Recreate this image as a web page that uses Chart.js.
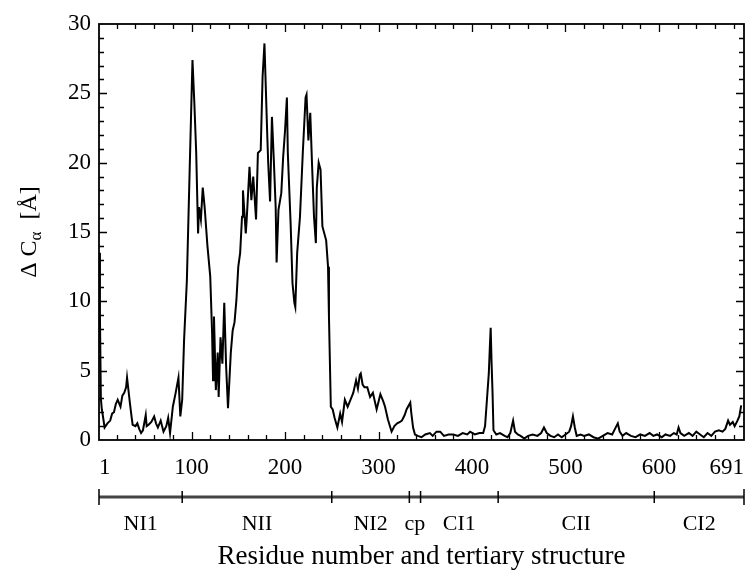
<!DOCTYPE html>
<html>
<head>
<meta charset="utf-8">
<script src="https://cdn.jsdelivr.net/npm/chart.js@4.4.1/dist/chart.umd.min.js"></script>
<style>
  html, body { margin: 0; padding: 0; background: #fff; }
  #wrap { width: 755px; height: 576px; }
</style>
</head>
<body>
<div id="wrap"><canvas id="dcaChart"></canvas></div>
<script>
Chart.defaults.font.family = "'Liberation Serif', 'Times New Roman', serif";
Chart.defaults.color = '#000';

// residue numbers and Delta C-alpha (Angstrom)
const residues = [
  1, 2, 3, 4, 5, 7, 10, 13, 15, 17, 19, 21, 24, 26, 28, 30, 31, 33, 34, 36, 37, 40, 42, 44, 46, 48,
  51, 52, 54, 57, 60, 62, 64, 67, 70, 73, 75, 77, 80, 83, 86, 88, 90, 92, 95, 98, 101, 103, 105,
  107, 108, 110, 112, 114, 117, 120, 122, 123, 124, 126, 128, 129, 131, 133, 135, 137, 139, 142,
  144, 146, 148, 150, 152, 154, 155, 158, 159, 162, 164, 166, 169, 171, 174, 176, 178, 181, 182,
  184, 186, 188, 190, 191, 193, 196, 198, 200, 202, 203, 206, 208, 210, 211, 213, 216, 219, 222,
  223, 225, 227, 229, 231, 233, 234, 236, 238, 240, 244, 246, 247, 249, 251, 253, 256, 259, 261,
  264, 267, 270, 273, 276, 278, 280, 281, 283, 285, 288, 291, 294, 298, 302, 305, 307, 310, 314,
  317, 320, 323, 325, 328, 330, 334, 335, 337, 339, 342, 346, 350, 355, 358, 362, 366, 370, 375,
  380, 385, 390, 395, 398, 403, 408, 412, 414, 416, 418, 419, 420, 421, 422, 423, 426, 430, 435,
  438, 441, 444, 446, 449, 452, 456, 460, 465, 470, 474, 477, 480, 484, 488, 492, 496, 500, 504,
  506, 508, 510, 512, 516, 520, 525, 530, 535, 540, 545, 550, 553, 556, 558, 561, 565, 570, 575,
  580, 585, 590, 594, 598, 603, 607, 612, 616, 619, 621, 623, 627, 632, 636, 640, 644, 648, 652,
  656, 660, 664, 668, 671, 674, 676, 679, 681, 684, 686, 688
];
const deltaCa = [
  13.5, 9.0, 3.0, 2.2, 1.8, 0.9, 1.2, 1.4, 1.9, 2.0, 2.6, 2.9, 2.4, 3.2, 3.4, 3.8, 4.5, 3.3, 2.7, 1.6, 1.1, 1.0, 1.2, 0.8, 0.5, 0.7,
  1.8, 1.0, 1.1, 1.3, 1.7, 1.2, 0.9, 1.4, 0.6, 1.0, 1.6, 0.5, 2.4, 3.4, 4.5, 1.7, 2.9, 7.2, 11.5, 19.5, 27.4, 24.3, 20.7,
  14.9, 16.8, 15.9, 18.2, 16.8, 14.0, 11.8, 7.7, 4.3, 8.9, 3.6, 6.3, 3.1, 7.4, 5.5, 9.9, 5.3, 2.3, 6.3,
  7.9, 8.5, 10.1, 12.5, 13.5, 16.1, 18.0, 14.9, 15.9, 19.7, 17.3, 19.0, 15.9, 20.7, 20.9, 26.2, 28.6, 22.0, 20.0,
  17.2, 23.3, 20.2, 16.8, 12.8, 16.6, 17.8, 20.4, 22.3, 24.7, 20.7, 15.6, 11.3, 9.9, 9.6, 13.5, 16.1, 20.7, 24.7,
  24.9, 21.6, 23.6, 19.7, 16.1, 14.2, 18.2, 20.0, 19.5, 15.4, 14.4, 12.5, 8.9, 2.4, 2.2, 1.6, 0.9, 1.9, 1.3,
  2.9, 2.4, 2.9, 3.4, 4.3, 3.7, 4.7, 4.8, 4.0, 3.8, 3.8, 3.1, 3.4, 2.2, 3.3, 2.8, 2.4, 1.5, 0.6,
  1.0, 1.2, 1.3, 1.4, 1.8, 2.2, 2.7, 2.0, 0.9, 0.4, 0.3, 0.2, 0.4, 0.5, 0.3, 0.6, 0.6, 0.3, 0.4,
  0.4, 0.3, 0.5, 0.4, 0.6, 0.4, 0.5, 0.5, 1.0, 2.9, 4.8, 6.5, 8.1, 5.5, 3.4, 0.7, 0.4, 0.5, 0.3,
  0.2, 0.5, 1.4, 0.6, 0.4, 0.3, 0.1, 0.3, 0.4, 0.3, 0.5, 0.9, 0.5, 0.3, 0.2, 0.4, 0.2, 0.4, 0.6,
  1.0, 1.7, 0.9, 0.3, 0.4, 0.3, 0.4, 0.2, 0.1, 0.3, 0.5, 0.4, 0.8, 1.2, 0.6, 0.3, 0.5, 0.3, 0.2,
  0.4, 0.3, 0.5, 0.3, 0.4, 0.2, 0.4, 0.3, 0.5, 0.4, 0.9, 0.5, 0.3, 0.5, 0.3, 0.6, 0.4, 0.2, 0.5,
  0.3, 0.6, 0.7, 0.6, 0.8, 1.4, 1.1, 1.3, 1.0, 1.4, 1.7, 2.5
];

const xTickValues = [1, 100, 200, 300, 400, 500, 600, 691];

// tertiary structure domains (residue boundaries)
const domainBounds = [1, 90, 250, 333, 345, 428, 595, 691];
const domainNames = ['NI1', 'NII', 'NI2', 'cp', 'CI1', 'CII', 'CI2'];

const frameAndDomains = {
    id: 'frameAndDomains',
    afterDraw(chart) {
        const ctx = chart.ctx;
        const a = chart.chartArea;
        const x = chart.scales.x, y = chart.scales.y;
        ctx.save();

        // box
        ctx.strokeStyle = '#000';
        ctx.lineWidth = 1.8;
        ctx.strokeRect(a.left, a.top, a.right - a.left, a.bottom - a.top);

        // inward ticks on all four sides
        ctx.lineWidth = 1.3;
        ctx.beginPath();
        for (let v = 20; v < 691; v += 20) {
            const px = Math.round(x.getPixelForValue(v)) + 0.5;
            const len = v % 100 === 0 ? 8 : 5;
            ctx.moveTo(px, a.bottom); ctx.lineTo(px, a.bottom - len);
            ctx.moveTo(px, a.top); ctx.lineTo(px, a.top + len);
        }
        for (let v = 1; v < 30; v++) {
            const py = Math.round(y.getPixelForValue(v)) + 0.5;
            const len = v % 5 === 0 ? 8 : 5;
            ctx.moveTo(a.left, py); ctx.lineTo(a.left + len, py);
            ctx.moveTo(a.right, py); ctx.lineTo(a.right - len, py);
        }
        ctx.stroke();

        // domain bar under the axis
        const barY = 497;
        ctx.strokeStyle = '#444';
        ctx.lineWidth = 3;
        ctx.beginPath();
        ctx.moveTo(x.getPixelForValue(domainBounds[0]), barY);
        ctx.lineTo(x.getPixelForValue(domainBounds[domainBounds.length - 1]), barY);
        ctx.stroke();
        ctx.strokeStyle = '#000';
        ctx.lineWidth = 1.5;
        ctx.beginPath();
        domainBounds.forEach((b, i) => {
            const px = x.getPixelForValue(b);
            const h = (i === 0 || i === domainBounds.length - 1) ? 8 : 6;
            ctx.moveTo(px, barY - h); ctx.lineTo(px, barY + h);
        });
        ctx.stroke();

        ctx.fillStyle = '#000';
        ctx.font = "22px 'Liberation Serif', serif";
        ctx.textAlign = 'center';
        ctx.textBaseline = 'alphabetic';
        domainNames.forEach((name, i) => {
            const mid = (x.getPixelForValue(domainBounds[i]) + x.getPixelForValue(domainBounds[i + 1])) / 2;
            ctx.fillText(name, mid, 530);
        });

        // y axis title with subscript alpha
        ctx.translate(30, (a.top + a.bottom) / 2);
        ctx.rotate(-Math.PI / 2);
        const big = "24px 'Liberation Serif', serif", small = "17px 'Liberation Serif', serif";
        const p1 = '\u0394 C', p2 = '\u03b1', p3 = '  [\u00c5]';
        ctx.font = big; const w1 = ctx.measureText(p1).width, w3 = ctx.measureText(p3).width;
        ctx.font = small; const w2 = ctx.measureText(p2).width;
        let sx = -(w1 + w2 + w3) / 2;
        ctx.textAlign = 'left';
        ctx.textBaseline = 'middle';
        ctx.font = big; ctx.fillText(p1, sx, 0); sx += w1;
        ctx.font = small; ctx.fillText(p2, sx, 7); sx += w2;
        ctx.font = big; ctx.fillText(p3, sx, 0);
        ctx.restore();
    }
};

new Chart(document.getElementById('dcaChart').getContext('2d'), {
    type: 'line',
    data: {
        datasets: [{
            label: 'dCa',
            data: residues.map((r, i) => ({x: r, y: deltaCa[i]})),
            borderColor: '#000',
            borderWidth: 2,
            pointRadius: 0,
            tension: 0,
            fill: false
        }]
    },
    options: {
        responsive: true,
        maintainAspectRatio: false,
        animation: false,
        layout: { padding: { top: 24, right: 11, left: 0, bottom: 0 } },
        plugins: { legend: { display: false }, tooltip: { enabled: false } },
        scales: {
            x: {
                type: 'linear',
                min: 1,
                max: 691,
                afterBuildTicks: (scale) => { scale.ticks = xTickValues.map(v => ({value: v})); },
                afterFit: (scale) => { scale.height = 136; scale.paddingLeft = 0; scale.paddingRight = 0; },
                ticks: {
                    font: { size: 23 },
                    align: 'inner',
                    maxRotation: 0,
                    autoSkip: false,
                    padding: 14,
                    callback: (v) => String(v)
                },
                grid: { display: false, drawTicks: false },
                border: { display: false },
                title: {
                    display: true,
                    text: 'Residue number and tertiary structure',
                    font: { size: 27 },
                    padding: { top: 0, bottom: 3 }
                }
            },
            y: {
                min: 0,
                max: 30,
                afterFit: (scale) => { scale.width = 99; scale.paddingTop = 0; scale.paddingBottom = 0; },
                ticks: { stepSize: 5, font: { size: 23 }, padding: 8 },
                grid: { display: false, drawTicks: false },
                border: { display: false }
            }
        }
    },
    plugins: [frameAndDomains]
});
</script>
</body>
</html>
